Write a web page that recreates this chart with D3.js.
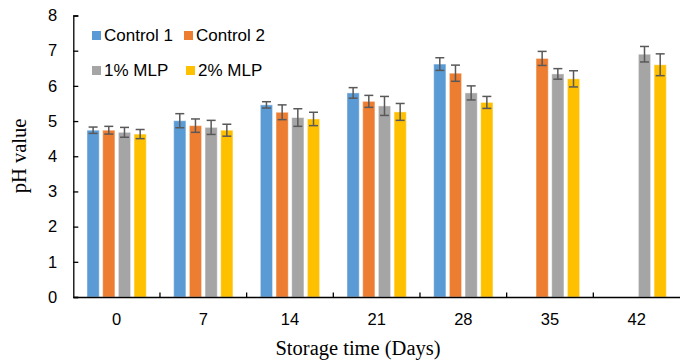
<!DOCTYPE html>
<html>
<head>
<meta charset="utf-8">
<script src="https://cdn.jsdelivr.net/npm/d3@7"></script>
<style>
  body { margin: 0; background: #fff; }
  svg { display: block; }
  .tick text { font-family: "Liberation Sans", Arial, sans-serif; font-size: 16.5px; fill: #000; }
  .axis-title { font-family: "Liberation Serif", "Times New Roman", serif; font-size: 20.5px; fill: #000; }
  .legend text { font-family: "Liberation Sans", Arial, sans-serif; font-size: 17px; fill: #000; }
</style>
</head>
<body>
<div id="chart"></div>
<script>
// storage days
const days = ['0', '7', '14', '21', '28', '35', '42'];
const seriesNames = ['Control 1', 'Control 2', '1% MLP', '2% MLP'];
const seriesColors = ['#5B9BD5', '#ED7D31', '#A5A5A5', '#FFC000'];

// pH means (null = not measured)
const control1 = [4.74, 5.01, 5.46, 5.80, 6.62, null, null];
const control2 = [4.74, 4.87, 5.25, 5.56, 6.36, 6.78, null];
const mlp1 = [4.68, 4.82, 5.10, 5.43, 5.80, 6.34, 6.90];
const mlp2 = [4.63, 4.74, 5.06, 5.26, 5.53, 6.20, 6.60];

// error bars (+/-)
const control1Err = [0.09, 0.20, 0.09, 0.15, 0.18, null, null];
const control2Err = [0.11, 0.19, 0.21, 0.17, 0.23, 0.20, null];
const mlp1Err = [0.14, 0.20, 0.25, 0.27, 0.20, 0.15, 0.22];
const mlp2Err = [0.13, 0.17, 0.19, 0.24, 0.17, 0.23, 0.31];

const yTicks = [0, 1, 2, 3, 4, 5, 6, 7, 8];

const values = [control1, control2, mlp1, mlp2];
const errors = [control1Err, control2Err, mlp1Err, mlp2Err];

const width = 680, height = 362;
const margin = { top: 15.5, right: 0, bottom: 65, left: 73.3 };
const innerH = height - margin.top - margin.bottom;

const svg = d3.select('#chart').append('svg')
  .attr('width', width)
  .attr('height', height);

const x0 = d3.scaleBand()
  .domain(days)
  .range([margin.left, width - margin.right])
  .padding(0);

const x1 = d3.scaleBand()
  .domain(seriesNames)
  .range([x0.bandwidth() * 0.158, x0.bandwidth() * 0.842])
  .paddingInner(0.22)
  .paddingOuter(0);

const y = d3.scaleLinear()
  .domain([0, 8])
  .range([margin.top + innerH, margin.top]);

// table of bars built from the arrays
const rows = days.map((day, i) => ({
  day,
  bars: seriesNames.map((name, s) => ({ name, s, value: values[s][i], err: errors[s][i] }))
    .filter(b => b.value != null)
}));

// bars
const groups = svg.append('g').attr('class', 'bars')
  .selectAll('g')
  .data(rows)
  .enter().append('g')
  .attr('transform', d => `translate(${x0(d.day)},0)`);

groups.selectAll('rect')
  .data(d => d.bars)
  .enter().append('rect')
  .attr('x', d => x1(d.name))
  .attr('y', d => y(d.value))
  .attr('width', x1.bandwidth())
  .attr('height', d => y(0) - y(d.value))
  .attr('fill', d => seriesColors[d.s])
  .attr('stroke', '#fff')
  .attr('stroke-opacity', 0.45)
  .attr('stroke-width', 1);

// error bars
const eb = groups.selectAll('g.err')
  .data(d => d.bars)
  .enter().append('g')
  .attr('class', 'err')
  .attr('stroke', '#595959')
  .attr('stroke-width', 1.5);

const cx = d => x1(d.name) + x1.bandwidth() / 2;
eb.append('line')
  .attr('x1', cx).attr('x2', cx)
  .attr('y1', d => y(d.value + d.err))
  .attr('y2', d => y(d.value - d.err));
eb.append('line')
  .attr('x1', d => cx(d) - 4.5).attr('x2', d => cx(d) + 4.5)
  .attr('y1', d => y(d.value + d.err)).attr('y2', d => y(d.value + d.err));
eb.append('line')
  .attr('x1', d => cx(d) - 4.5).attr('x2', d => cx(d) + 4.5)
  .attr('y1', d => y(d.value - d.err)).attr('y2', d => y(d.value - d.err));

// y axis, ticks pointing into the plot
const yAxis = svg.append('g')
  .attr('class', 'axis axis-y')
  .attr('transform', `translate(${margin.left},0)`)
  .call(d3.axisRight(y).tickValues(yTicks).tickFormat(d3.format('d')).tickSize(5).tickSizeOuter(5));
yAxis.selectAll('.tick text')
  .attr('text-anchor', 'end')
  .attr('x', -16);
yAxis.selectAll('path, line').attr('stroke', '#000').attr('stroke-width', 1.3);

// x axis, ticks between categories pointing up
const xAxis = svg.append('g')
  .attr('class', 'axis axis-x')
  .attr('transform', `translate(0,${y(0)})`)
  .call(d3.axisBottom(x0).tickSize(0).tickSizeOuter(0));
xAxis.select('.domain').attr('stroke', '#000').attr('stroke-width', 1.3);
xAxis.selectAll('.tick text').attr('y', 16);
xAxis.selectAll('line.sep')
  .data(days.slice(1))
  .enter().append('line')
  .attr('class', 'sep')
  .attr('x1', d => x0(d)).attr('x2', d => x0(d))
  .attr('y1', 0).attr('y2', -4.5)
  .attr('stroke', '#000').attr('stroke-width', 1.3);

// axis titles
svg.append('text')
  .attr('class', 'axis-title')
  .attr('x', 358)
  .attr('y', 355)
  .attr('text-anchor', 'middle')
  .text('Storage time (Days)');

svg.append('text')
  .attr('class', 'axis-title')
  .attr('transform', 'translate(26,156) rotate(-90)')
  .attr('text-anchor', 'middle')
  .text('pH value');

// legend, 2 x 2
const legendPos = [[92, 31], [184, 31], [92, 66], [186, 66]];
const legend = svg.append('g').attr('class', 'legend')
  .selectAll('g')
  .data(seriesNames)
  .enter().append('g')
  .attr('transform', (d, i) => `translate(${legendPos[i][0]},${legendPos[i][1]})`);
legend.append('rect')
  .attr('width', 9).attr('height', 9)
  .attr('fill', (d, i) => seriesColors[i]);
legend.append('text')
  .attr('x', 12)
  .attr('y', 9.5)
  .text(d => d);
</script>
</body>
</html>
